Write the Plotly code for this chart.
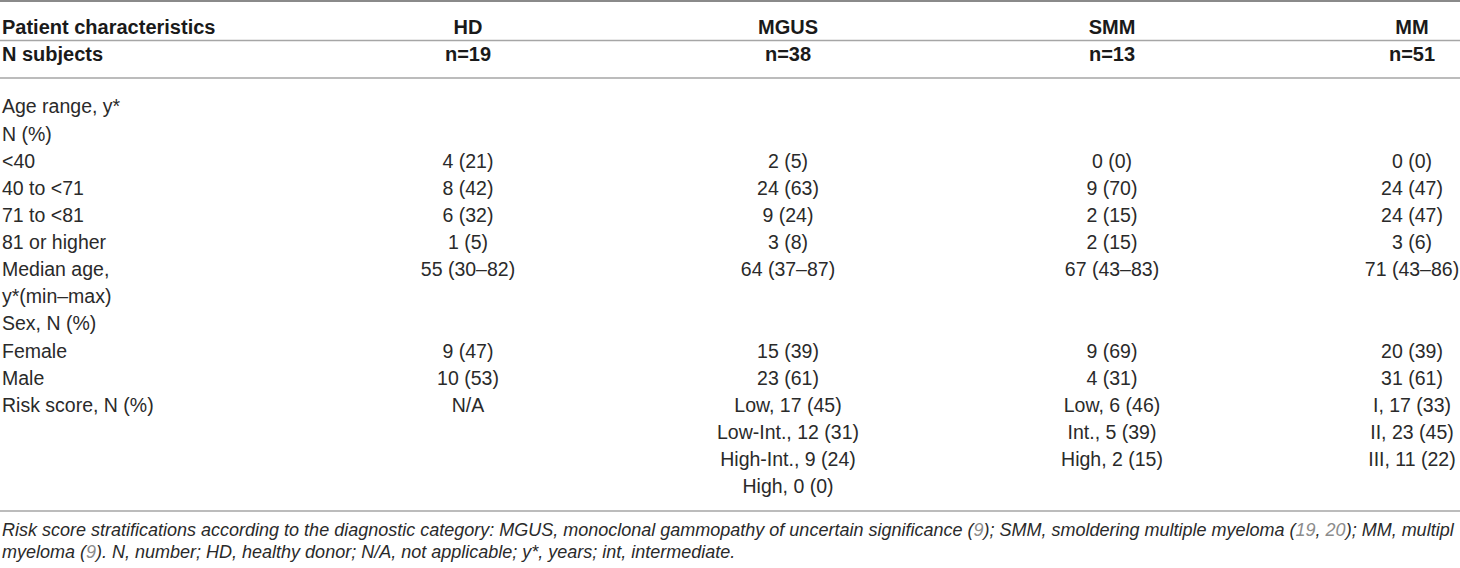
import plotly.graph_objects as go

# table contents
header = ["Patient characteristics", "HD", "MGUS", "SMM", "MM"]
subjects = ["N subjects", "n=19", "n=38", "n=13", "n=51"]

row_labels = ["Age range, y*", "N (%)", "<40", "40 to <71", "71 to <81", "81 or higher",
              "Median age,", "y*(min–max)", "Sex, N (%)", "Female", "Male",
              "Risk score, N (%)", "", "", ""]
hd = ["", "", "4 (21)", "8 (42)", "6 (32)", "1 (5)", "55 (30–82)", "", "",
      "9 (47)", "10 (53)", "N/A", "", "", ""]
mgus = ["", "", "2 (5)", "24 (63)", "9 (24)", "3 (8)", "64 (37–87)", "", "",
        "15 (39)", "23 (61)", "Low, 17 (45)", "Low-Int., 12 (31)", "High-Int., 9 (24)", "High, 0 (0)"]
smm = ["", "", "0 (0)", "9 (70)", "2 (15)", "2 (15)", "67 (43–83)", "", "",
       "9 (69)", "4 (31)", "Low, 6 (46)", "Int., 5 (39)", "High, 2 (15)", ""]
mm = ["", "", "0 (0)", "24 (47)", "24 (47)", "3 (6)", "71 (43–86)", "", "",
      "20 (39)", "31 (61)", "I, 17 (33)", "II, 23 (45)", "III, 11 (22)", ""]

ref = "<span style='color:#8c8c8c'>%s</span>"
footnote = [
    "<i>Risk score stratifications according to the diagnostic category: MGUS, monoclonal gammopathy of uncertain significance ("
    + ref % "9" + "); SMM, smoldering multiple myeloma (" + ref % "19" + ", " + ref % "20" + "); MM, multipl</i>",
    "<i>myeloma (" + ref % "9" + "). N, number; HD, healthy donor; N/A, not applicable; y*, years; int, intermediate.</i>",
]

# layout (pixels)
W, H = 1460, 568
col_x = [2, 468, 788, 1112, 1412]
head_y = [28.5, 55.5]
row_y0, row_step = 108.5, 27.14
rule_y = [1, 40.5, 78, 511]
foot_y = [529.5, 551.5]

FONT = "Liberation Sans, Arial, Helvetica, sans-serif"
TXT = "#2a2a2a"

rows_y = [row_y0 + i * row_step for i in range(len(row_labels))]
columns = [row_labels, hd, mgus, smm, mm]

fig = go.Figure()

for j, x in enumerate(col_x):
    pos = "middle right" if j == 0 else "middle center"
    fig.add_trace(go.Scatter(
        x=[x, x], y=head_y, mode="text",
        text=["<b>%s</b>" % header[j], "<b>%s</b>" % subjects[j]],
        textposition=pos,
        textfont=dict(family=FONT, size=20, color="#1a1a1a"),
        hoverinfo="skip", showlegend=False,
    ))
    fig.add_trace(go.Scatter(
        x=[x] * len(rows_y), y=rows_y, mode="text",
        text=columns[j], textposition=pos,
        textfont=dict(family=FONT, size=19.5, color=TXT),
        hoverinfo="skip", showlegend=False,
    ))

for i, yy in enumerate(rule_y):
    fig.add_shape(type="line", xref="x", yref="y", x0=0, x1=W, y0=yy, y1=yy,
                  line=dict(color="#8a8a8a" if i == 0 else "#a6a6a6", width=2 if i == 0 else 1.6))

for txt, yy in zip(footnote, foot_y):
    fig.add_annotation(x=0, y=yy, xref="x", yref="y", text=txt, showarrow=False,
                       xanchor="left", yanchor="middle",
                       font=dict(family=FONT, size=18, color=TXT))

fig.update_layout(
    width=W, height=H,
    margin=dict(l=0, r=0, t=0, b=0),
    paper_bgcolor="white", plot_bgcolor="white",
    xaxis=dict(range=[0, W], visible=False, fixedrange=True),
    yaxis=dict(range=[H, 0], visible=False, fixedrange=True),
)

# page has a default body margin; drop it so the figure fills the window
fig.write_html("out.html", config={"displayModeBar": False},
               post_script="document.body.style.margin='0';document.body.style.overflow='hidden';")
